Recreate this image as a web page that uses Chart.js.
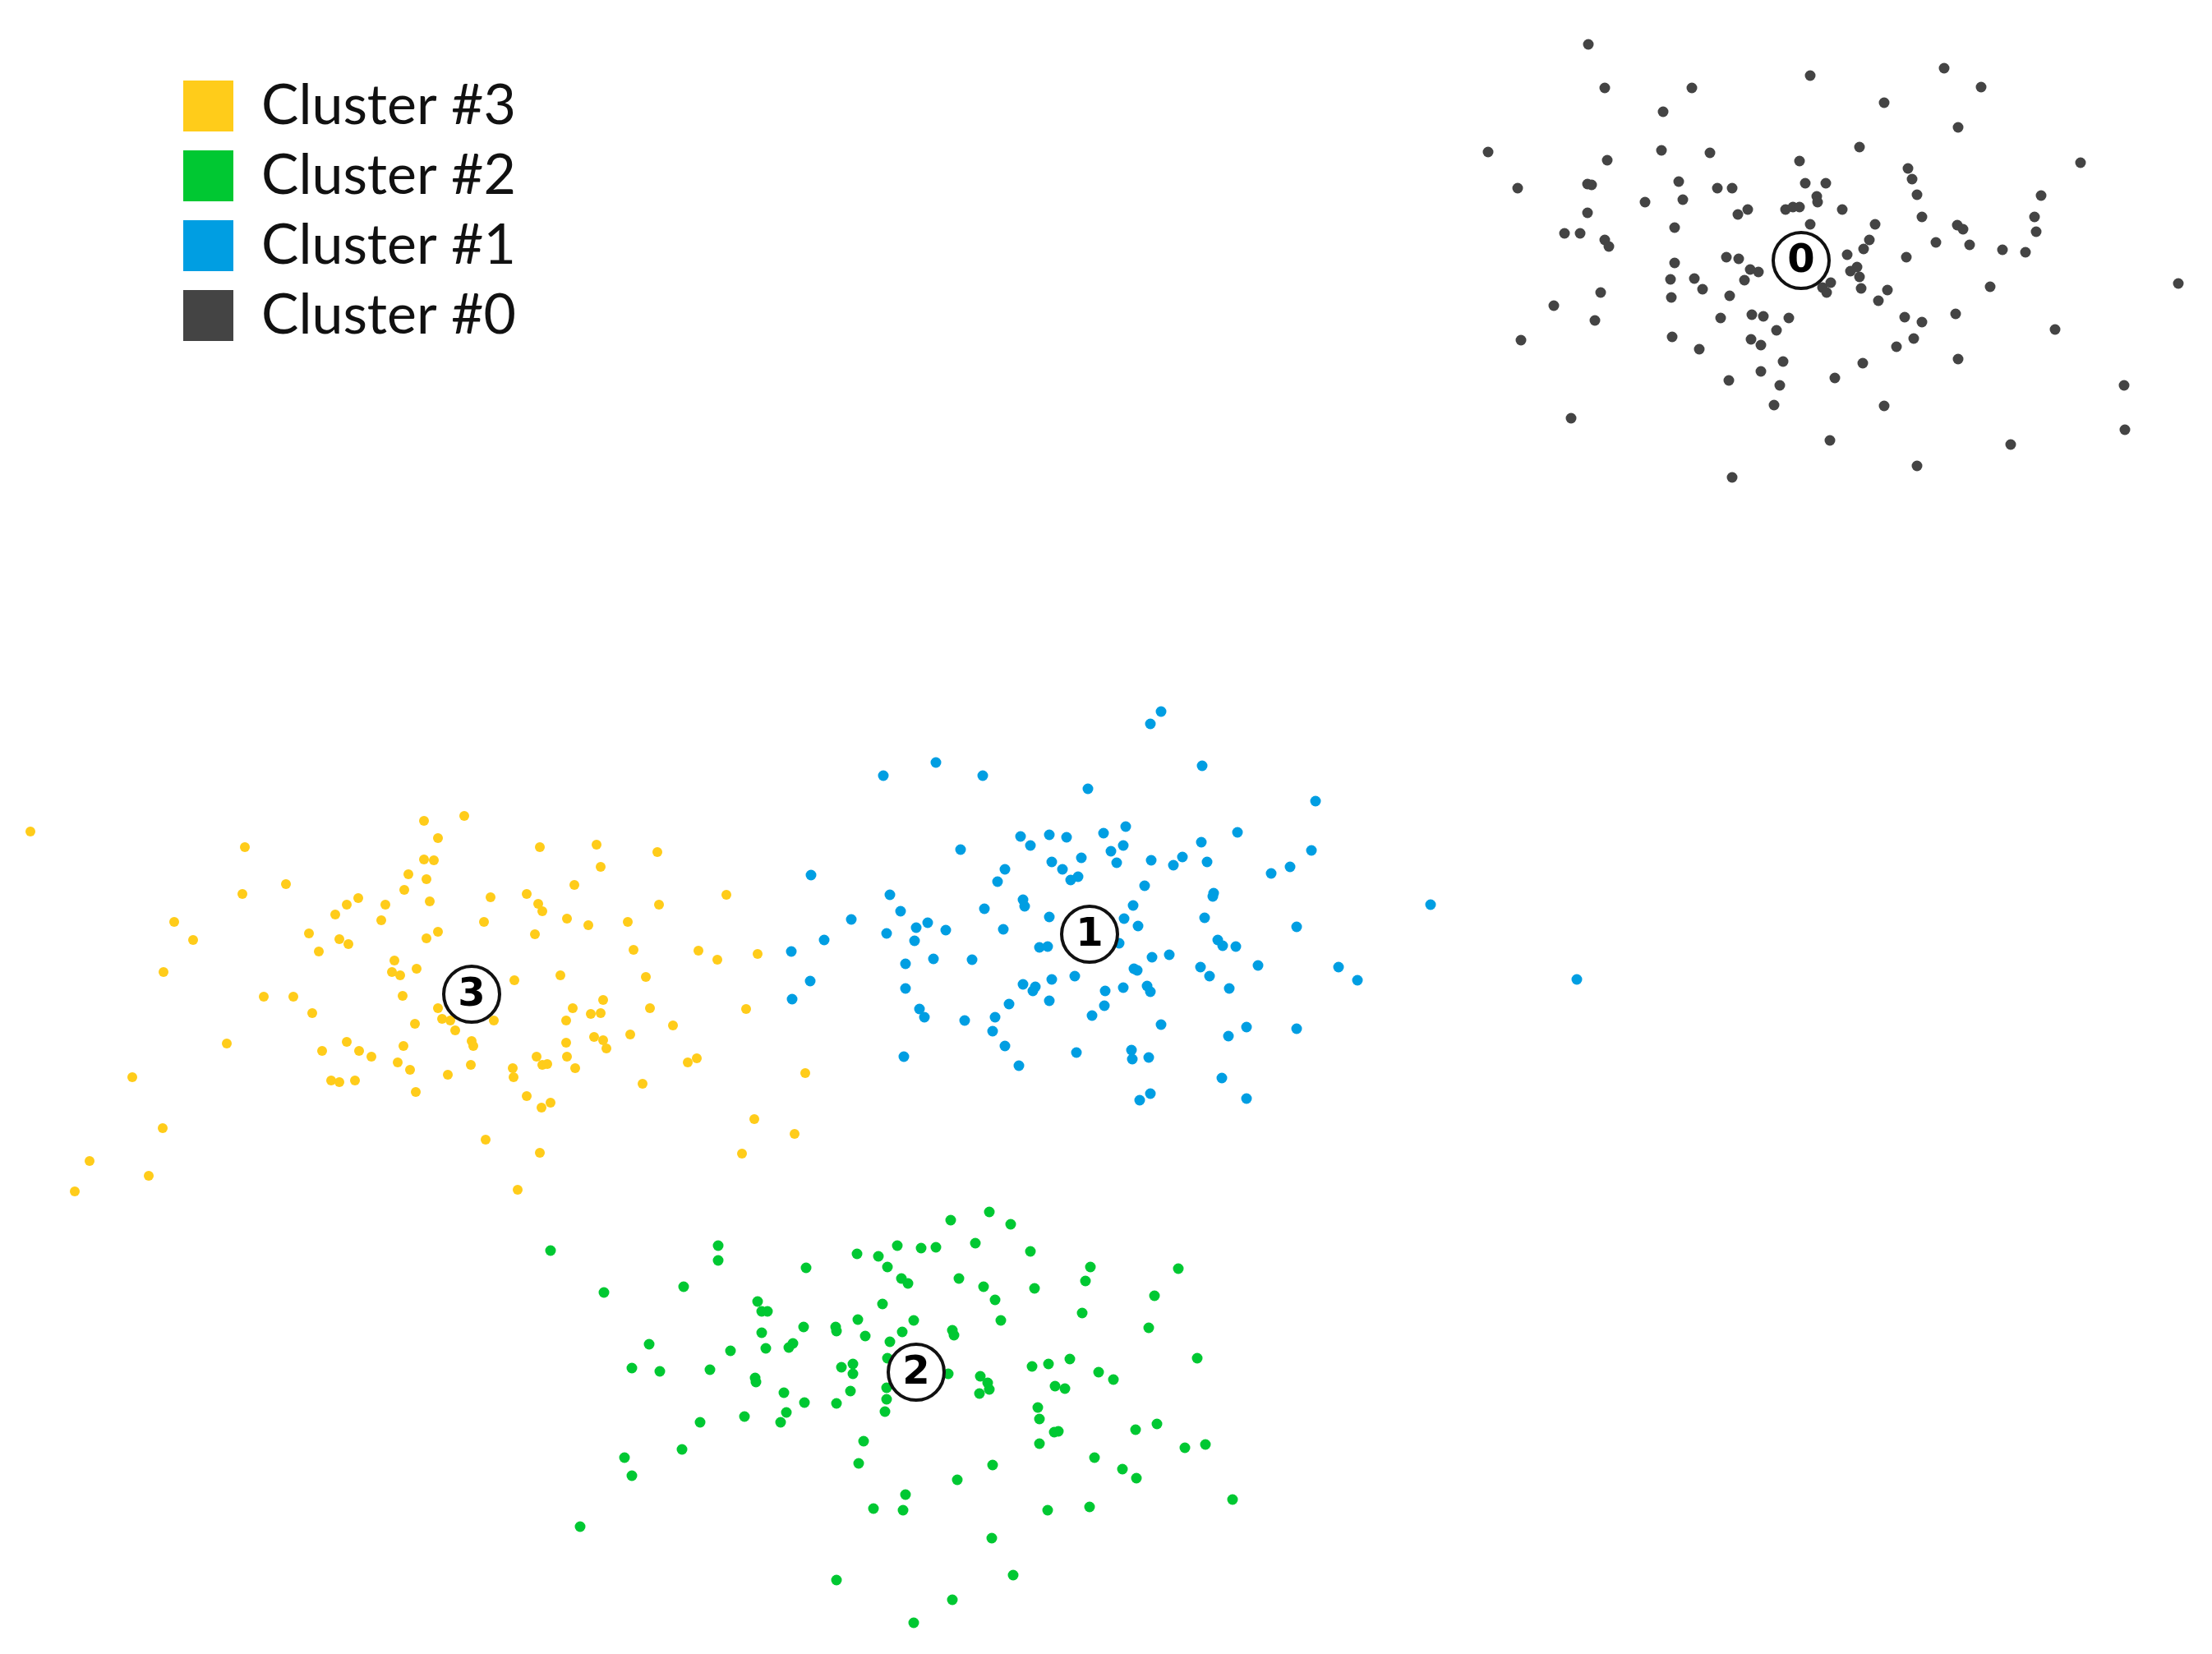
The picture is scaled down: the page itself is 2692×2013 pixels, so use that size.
<!DOCTYPE html>
<html>
<head>
<meta charset="utf-8">
<script src="https://cdn.jsdelivr.net/npm/chart.js@4.4.1/dist/chart.umd.min.js"></script>
<style>
  html, body { margin: 0; padding: 0; background: #ffffff; }
  #wrap { width: 2692px; height: 2013px; position: relative; }
</style>
</head>
<body>
<div id="wrap"><canvas id="clusterChart"></canvas></div>
<script>
// embedding coordinates (no axes in the original)
const cluster0Points = [
  [1933,54],[1953,107],[2059,107],[2203,92],[2024,136],[1811,185],[2022,183],[2081,186],[1956,195],[2190,196],
  [1847,229],[1932,224],[1937,225],[2043,221],[2090,229],[2108,229],[2197,223],[2222,223],[2211,239],[2212,246],
  [2002,246],[2048,243],[2127,255],[2115,261],[2173,255],[2182,252],[2190,252],[1932,259],[2203,273],[2038,277],
  [1904,284],[1923,284],[1953,292],[1958,300],[2101,313],[2116,315],[2038,320],[2130,328],[2140,331],[2123,341],
  [2033,340],[2062,339],[2072,352],[2034,362],[2105,360],[1948,356],[2228,344],[2218,350],[2223,356],[1891,372],
  [1941,390],[2094,387],[2132,383],[2146,385],[2177,387],[2162,402],[1851,414],[2035,410],[2131,413],[2143,420],
  [2068,425],[2170,440],[2143,452],[2104,463],[2166,469],[2233,460],[2159,493],[1912,509],[2227,536],[2108,581],
  [2366,83],[2411,106],[2293,125],[2383,155],[2263,179],[2532,198],[2322,205],[2327,218],[2333,237],[2484,238],
  [2242,255],[2476,264],[2339,264],[2282,273],[2382,274],[2389,279],[2478,282],[2275,292],[2268,303],[2356,295],
  [2397,298],[2437,304],[2465,307],[2248,310],[2320,313],[2651,345],[2260,325],[2252,330],[2263,337],[2265,351],
  [2297,353],[2422,349],[2286,366],[2380,382],[2318,386],[2339,392],[2501,401],[2329,412],[2308,422],[2267,442],
  [2383,437],[2585,469],[2293,494],[2586,523],[2447,541],[2333,567]
];

const cluster1Points = [
  [1413,866],[1400,881],[1139,928],[1075,944],[1196,944],[1324,960],[1370,1006],[1242,1018],[1277,1016],[1298,1019],
  [1343,1014],[1254,1029],[1367,1029],[1169,1034],[1352,1036],[1316,1044],[1280,1049],[1359,1050],[1401,1047],[1439,1043],
  [1428,1053],[1223,1058],[1293,1058],[1312,1067],[1303,1071],[987,1065],[1214,1073],[1393,1078],[1083,1089],[1245,1095],
  [1247,1103],[1198,1106],[1096,1109],[1379,1102],[1277,1116],[1036,1119],[1368,1118],[1129,1123],[1115,1129],[1151,1132],
  [1221,1131],[1385,1127],[1079,1136],[1003,1144],[1113,1145],[1362,1148],[1265,1153],[1275,1152],[963,1158],[1136,1167],
  [1183,1168],[1102,1173],[1402,1165],[1423,1162],[1380,1179],[1384,1181],[1308,1188],[1280,1192],[986,1194],[1245,1198],
  [1260,1201],[1257,1206],[1367,1202],[1396,1200],[1400,1207],[1345,1206],[1102,1203],[964,1216],[1277,1218],[1228,1222],
  [1344,1224],[1119,1228],[1125,1238],[1211,1238],[1329,1236],[1174,1242],[1413,1247],[1208,1255],[1223,1273],[1310,1281],
  [1377,1278],[1378,1289],[1398,1287],[1100,1286],[1240,1297],[1400,1331],[1387,1339],
  [1463,932],[1601,975],[1506,1013],[1462,1025],[1596,1035],[1469,1049],[1570,1055],[1547,1063],[1477,1087],[1476,1091],
  [1741,1101],[1466,1117],[1578,1128],[1482,1144],[1488,1151],[1504,1152],[1461,1177],[1531,1175],[1629,1177],[1472,1188],
  [1652,1193],[1919,1192],[1496,1203],[1517,1250],[1578,1252],[1495,1261],[1487,1312],[1517,1337]
];

const cluster2Points = [
  [670,1522],[874,1516],[874,1534],[735,1573],[832,1566],[981,1543],[1043,1526],[1069,1529],[1080,1542],[922,1584],
  [927,1596],[934,1596],[1074,1587],[1044,1606],[978,1615],[1017,1615],[1018,1620],[1053,1626],[927,1622],[790,1636],
  [889,1644],[932,1641],[960,1640],[965,1635],[1083,1633],[769,1665],[803,1669],[864,1667],[919,1677],[920,1682],
  [1024,1664],[1038,1660],[1038,1672],[1080,1653],[954,1695],[1035,1693],[1079,1689],[979,1707],[1018,1708],[1079,1703],
  [1077,1718],[957,1719],[950,1731],[906,1724],[852,1731],[1051,1754],[830,1764],[760,1774],[769,1796],[1045,1781],
  [1063,1836],[706,1858],[1018,1923],
  [1204,1475],[1157,1485],[1230,1490],[1092,1516],[1121,1519],[1139,1518],[1187,1513],[1254,1523],[1327,1542],[1434,1544],
  [1097,1556],[1105,1562],[1167,1556],[1197,1566],[1259,1568],[1321,1559],[1211,1582],[1405,1577],[1317,1598],[1112,1607],
  [1218,1607],[1098,1621],[1159,1619],[1161,1625],[1398,1616],[1457,1653],[1256,1663],[1276,1660],[1302,1654],[1337,1670],
  [1355,1679],[1154,1672],[1193,1675],[1202,1683],[1204,1691],[1192,1696],[1284,1687],[1296,1690],[1263,1713],[1265,1727],
  [1283,1743],[1288,1742],[1265,1757],[1382,1740],[1408,1733],[1442,1762],[1467,1758],[1332,1774],[1208,1783],[1366,1788],
  [1383,1799],[1165,1801],[1102,1819],[1099,1838],[1275,1838],[1326,1834],[1500,1825],[1207,1872],[1233,1917],[1159,1947],
  [1112,1975]
];

const cluster3Points = [
  [37,1012],[298,1031],[516,999],[348,1076],[295,1088],[516,1046],[497,1064],[519,1070],[492,1083],[436,1093],
  [422,1101],[469,1101],[408,1113],[464,1120],[212,1122],[523,1097],[235,1144],[376,1136],[413,1143],[424,1149],
  [519,1142],[388,1158],[199,1183],[480,1169],[507,1179],[477,1183],[487,1187],[321,1213],[357,1213],[490,1212],
  [380,1233],[505,1246],[276,1270],[422,1268],[392,1279],[437,1279],[452,1286],[491,1273],[484,1293],[499,1302],
  [161,1311],[403,1315],[413,1317],[432,1315],[506,1329],[198,1373],[109,1413],[181,1431],[91,1450],
  [565,993],[533,1020],[657,1031],[726,1028],[800,1037],[528,1047],[731,1055],[699,1077],[884,1089],[597,1092],
  [641,1088],[655,1100],[660,1109],[802,1101],[589,1122],[690,1118],[716,1126],[764,1122],[533,1134],[651,1137],
  [771,1156],[850,1157],[873,1168],[922,1161],[682,1187],[626,1193],[786,1189],[734,1217],[697,1227],[791,1227],
  [908,1228],[533,1227],[538,1240],[548,1242],[601,1242],[719,1234],[731,1233],[689,1242],[819,1248],[554,1254],
  [767,1259],[723,1262],[734,1266],[738,1276],[574,1267],[576,1273],[689,1269],[653,1286],[690,1286],[660,1296],
  [666,1295],[573,1296],[545,1308],[624,1300],[625,1311],[700,1300],[848,1288],[837,1293],[782,1319],[980,1306],
  [641,1334],[659,1348],[670,1342],[918,1362],[967,1380],[591,1387],[903,1404],[657,1403],[630,1448]
];

// cluster centres, labelled 0..3
const centroidLabels = ['0', '1', '2', '3'];
const centroidPoints = [[2192,317],[1326,1137],[1115,1670],[574,1210]];

const legendLabels = ['Cluster #3', 'Cluster #2', 'Cluster #1', 'Cluster #0'];
const clusterColors = ['#FFCC1A', '#00C832', '#009EE2', '#444444'];

const toXY = (pts) => pts.map(p => ({ x: p[0], y: p[1] }));
const clusterData = [cluster3Points, cluster2Points, cluster1Points, cluster0Points];

const datasets = clusterData.map((pts, i) => ({
    label: legendLabels[i],
    data: toXY(pts),
    backgroundColor: clusterColors[i],
    borderColor: clusterColors[i],
    borderWidth: 0,
    pointBackgroundColor: clusterColors[i],
    pointBorderWidth: 0,
    pointRadius: i === 0 ? 6 : 6.5,
    clip: false
}));

datasets.push({
    label: 'centroids',
    data: toXY(centroidPoints),
    backgroundColor: '#ffffff',
    borderColor: '#111111',
    borderWidth: 0,
    pointBackgroundColor: '#ffffff',
    pointBorderColor: '#111111',
    pointBorderWidth: 4,
    pointRadius: 34,
    order: -1,
    clip: false
});

// draw the number inside each centroid circle
const centroidText = {
    id: 'centroidText',
    afterDatasetsDraw(chart) {
        const meta = chart.getDatasetMeta(4);
        const ctx = chart.ctx;
        ctx.save();
        ctx.fillStyle = '#000000';
        ctx.font = 'bold 48px "DejaVu Sans"';
        ctx.textAlign = 'center';
        ctx.textBaseline = 'middle';
        meta.data.forEach((pt, i) => {
            ctx.fillText(centroidLabels[i], pt.x, pt.y + 2);
        });
        ctx.restore();
    }
};

// legend sits in the top-left corner, indented like the original
const legendOffset = {
    id: 'legendOffset',
    afterLayout(chart) {
        if (chart.legend) chart.legend.left = 206;
    }
};

new Chart(document.getElementById('clusterChart'), {
    type: 'scatter',
    data: { datasets: datasets },
    plugins: [centroidText, legendOffset],
    options: {
        responsive: true,
        maintainAspectRatio: false,
        animation: false,
        events: [],
        layout: { autoPadding: false, padding: 0 },
        plugins: {
            tooltip: { enabled: false },
            legend: {
                position: 'chartArea',
                align: 'start',
                title: { display: true, text: '', font: { size: 10, lineHeight: 1 }, padding: { top: 68, bottom: 0 } },
                labels: {
                    filter: (item) => item.datasetIndex < 4,
                    boxWidth: 61,
                    boxHeight: 62,
                    padding: 17,
                    color: '#111111',
                    font: { family: 'Lato', size: 68 }
                }
            }
        },
        scales: {
            x: { type: 'linear', display: false, min: 0, max: 2692 },
            y: { type: 'linear', display: false, reverse: true, min: 0, max: 2013 }
        }
    }
});
</script>
</body>
</html>
